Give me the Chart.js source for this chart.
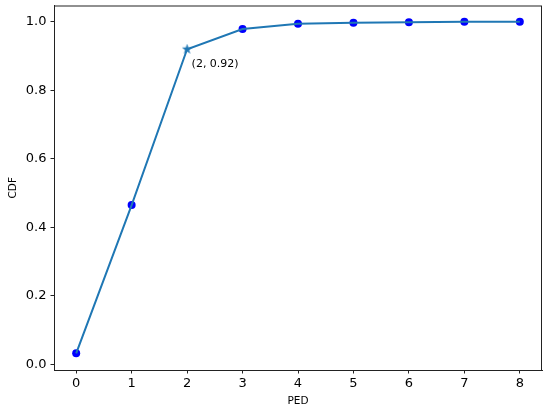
<!DOCTYPE html>
<html>
<head>
<meta charset="utf-8">
<script src="https://cdn.jsdelivr.net/npm/chart.js@4.4.0/dist/chart.umd.min.js"></script>
<style>
  html, body { margin: 0; padding: 0; background: #fff; }
  #wrap { width: 550px; height: 411px; position: relative; }
</style>
</head>
<body>
<div id="wrap"><canvas id="cdfChart"></canvas></div>
<script>
// values
const ped = [0, 1, 2, 3, 4, 5, 6, 7, 8];
const cdf = [0.032, 0.465, 0.92, 0.979, 0.9945, 0.9975, 0.9985, 1.0, 1.0];
const xTicks = [0, 1, 2, 3, 4, 5, 6, 7, 8];
const yTicks = [0, 0.2, 0.4, 0.6, 0.8, 1.0];
const starIndex = 2;
const annotText = "(2, 0.92)";

const lineColor = "#1f77b4";
const font = "DejaVu Sans";

// filled 5 point star like matplotlib's '*'
function makeStar(size, color) {
    const c = document.createElement("canvas");
    c.width = size;
    c.height = size;
    const g = c.getContext("2d");
    const cx = size / 2, cy = size / 2, R = size / 2, r = R * 0.4;
    g.beginPath();
    for (let i = 0; i < 10; i++) {
        const rad = i % 2 == 0 ? R : r;
        const a = -Math.PI / 2 + i * Math.PI / 5;
        g.lineTo(cx + rad * Math.cos(a), cy + rad * Math.sin(a));
    }
    g.closePath();
    g.fillStyle = color;
    g.fill();
    return c;
}
const star = makeStar(11, lineColor);

const linePoints = ped.map((x, i) => ({ x: x, y: cdf[i] }));
const dotPoints = ped.map((x, i) => ({ x: x, y: cdf[i] })).filter((p, i) => i != starIndex);

// frame around the plot area + the text note
const framePlugin = {
    id: "frame",
    afterDraw(chart) {
        const { ctx, chartArea: a, scales } = chart;
        ctx.save();
        ctx.strokeStyle = "#222";
        ctx.lineWidth = 1;
        ctx.strokeRect(a.left + 0.5, a.top + 0.5, a.right - a.left - 1, a.bottom - a.top);
        const px = scales.x.getPixelForValue(ped[starIndex]);
        const py = scales.y.getPixelForValue(cdf[starIndex]);
        ctx.fillStyle = "#000";
        ctx.font = "11px '" + font + "'";
        ctx.textBaseline = "middle";
        ctx.textAlign = "left";
        ctx.fillText(annotText, px + 4.5, py + 15);
        ctx.restore();
    }
};

new Chart(document.getElementById("cdfChart").getContext("2d"), {
    type: "scatter",
    data: {
        datasets: [
            {
                type: "line",
                data: linePoints,
                borderColor: lineColor,
                borderWidth: 2,
                tension: 0,
                fill: false,
                pointStyle: ped.map((x, i) => i == starIndex ? star : "circle"),
                pointRadius: ped.map((x, i) => i == starIndex ? 5.5 : 0),
                pointHoverRadius: 0
            },
            {
                type: "scatter",
                data: dotPoints,
                backgroundColor: "#0000ff",
                borderColor: "#0000ff",
                borderWidth: 0,
                pointRadius: 4,
                pointHoverRadius: 4
            }
        ]
    },
    options: {
        responsive: true,
        maintainAspectRatio: false,
        animation: false,
        layout: { padding: { left: 0, right: 8, top: 5.5, bottom: 0 } },
        plugins: {
            legend: { display: false },
            tooltip: { enabled: false }
        },
        scales: {
            x: {
                type: "linear",
                min: -0.4,
                max: 8.4,
                afterBuildTicks: (s) => { s.ticks = xTicks.map(v => ({ value: v })); },
                afterFit: (s) => { s.height = 41; s.paddingLeft = 0; s.paddingRight = 0; },
                ticks: {
                    color: "#000",
                    font: { family: font, size: 13 },
                    padding: 2,
                    maxRotation: 0,
                    callback: (v) => String(v)
                },
                grid: { display: true, drawOnChartArea: false, drawTicks: true, tickLength: 3.5, color: "#222" },
                border: { display: true, color: "#222", width: 1 },
                title: {
                    display: true,
                    text: "PED",
                    color: "#000",
                    font: { family: font, size: 10.5 },
                    padding: { top: 0, bottom: 3.5 }
                }
            },
            y: {
                type: "linear",
                min: -0.0166,
                max: 1.0476,
                afterBuildTicks: (s) => { s.ticks = yTicks.map(v => ({ value: v })); },
                afterFit: (s) => { s.width = 54; s.paddingTop = 0; s.paddingBottom = 0; },
                ticks: {
                    color: "#000",
                    font: { family: font, size: 13 },
                    padding: 4,
                    callback: (v) => Number(v).toFixed(1)
                },
                grid: { display: true, drawOnChartArea: false, drawTicks: true, tickLength: 3.5, color: "#222" },
                border: { display: true, color: "#222", width: 1 },
                title: {
                    display: true,
                    text: "CDF",
                    color: "#000",
                    font: { family: font, size: 10.5 },
                    padding: { top: 7, bottom: 0 }
                }
            }
        }
    },
    plugins: [framePlugin]
});
</script>
</body>
</html>
